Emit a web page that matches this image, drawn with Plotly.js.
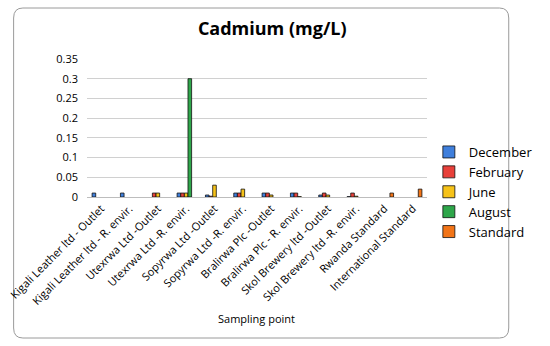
<!DOCTYPE html>
<html>
<head>
<meta charset="utf-8">
<script src="https://cdn.plot.ly/plotly-3.0.1.min.js"></script>
<style>
  body { margin: 0; background: #fff; }
  #chart { width: 550px; height: 346px; }
</style>
</head>
<body>
<div id="chart"></div>
<script>
// sampling points (x categories)
const samplingPoints = [
    'Kigali Leather ltd - Outlet',
    'Kigali Leather ltd - R. envir.',
    'Utexrwa Ltd -Outlet',
    'Utexrwa Ltd -R. envir.',
    'Sopyrwa Ltd -Outlet',
    'Sopyrwa Ltd -R. envir.',
    'Bralirwa Plc -Outlet',
    'Bralirwa Plc - R. envir.',
    'Skol Brewery ltd -Outlet',
    'Skol Brewery ltd -R. envir.',
    'Rwanda Standard',
    'International Standard'
];

// Cd concentrations (mg/L) per sampling campaign, null = nothing drawn
const december = [0.01, 0.01, null, 0.01, 0.005, 0.01, 0.01, 0.01, 0.005, 0.001, null, null];
const february = [null, null, 0.01, 0.01, 0.002, 0.01, 0.01, 0.01, 0.01, 0.01, null, null];
const june     = [null, null, 0.01, 0.01, 0.03, 0.02, 0.005, 0.001, 0.005, 0.002, null, null];
const august   = [null, null, null, 0.3, null, null, null, null, null, null, null, null];
const standard = [null, null, null, null, null, null, null, null, null, null, 0.01, 0.02];

const seriesNames = ['December', 'February', 'June', 'August', 'Standard'];
const seriesColors = ['#3f7fdc', '#e8403a', '#f6c218', '#2ea64a', '#f27417'];
const seriesValues = [december, february, june, august, standard];

const traces = seriesValues.map((vals, i) => ({
    type: 'bar',
    name: seriesNames[i],
    x: samplingPoints,
    y: vals,
    marker: { color: seriesColors[i], line: { color: '#111', width: 0.8 } },
    hoverinfo: 'x+y+name'
}));

// plot area in pixels
const L = 87, R = 453, T = 59, B = 197;
const px = x => (x - L) / (R - L);
const py = y => (B - y) / (B - T);

// rounded chart border, drawn in paper coords
function roundRect(x0, y0, x1, y1, r) {
    return 'M' + px(x0 + r) + ',' + py(y0) +
        ' L' + px(x1 - r) + ',' + py(y0) +
        ' Q' + px(x1) + ',' + py(y0) + ' ' + px(x1) + ',' + py(y0 + r) +
        ' L' + px(x1) + ',' + py(y1 - r) +
        ' Q' + px(x1) + ',' + py(y1) + ' ' + px(x1 - r) + ',' + py(y1) +
        ' L' + px(x0 + r) + ',' + py(y1) +
        ' Q' + px(x0) + ',' + py(y1) + ' ' + px(x0) + ',' + py(y1 - r) +
        ' L' + px(x0) + ',' + py(y0 + r) +
        ' Q' + px(x0) + ',' + py(y0) + ' ' + px(x0 + r) + ',' + py(y0) + ' Z';
}

const layout = {
    width: 550,
    height: 346,
    margin: { l: L, r: 550 - R, t: T, b: 346 - B },
    paper_bgcolor: '#fff',
    plot_bgcolor: '#fff',
    font: { family: 'Open Sans, Liberation Sans, sans-serif', color: '#000', size: 11 },
    title: {
        text: '<b>Cadmium (mg/L)</b>',
        font: { size: 18, color: '#000' },
        x: 0.495, xanchor: 'center',
        y: 0.918, yanchor: 'middle'
    },
    barmode: 'group',
    bargap: 0.36,
    bargroupgap: 0,
    showlegend: true,
    legend: {
        x: px(455), y: py(137), xanchor: 'left', yanchor: 'top',
        font: { size: 13 },
        itemwidth: 30,
        tracegroupgap: 0,
        bgcolor: 'rgba(0,0,0,0)'
    },
    xaxis: {
        type: 'category',
        tickangle: -45,
        tickfont: { size: 11 },
        showline: true,
        linecolor: '#bdbdbd',
        ticks: '',
        showgrid: false
    },
    yaxis: {
        range: [0, 0.35],
        dtick: 0.05,
        tick0: 0,
        tickfont: { size: 11 },
        gridcolor: '#d0d0d0',
        gridwidth: 1,
        zeroline: false,
        showline: false,
        ticks: '',
        ticklabelstandoff: 8
    },
    annotations: [{
        text: 'Sampling point',
        xref: 'paper', yref: 'paper',
        x: px(269), y: py(318),
        xanchor: 'center', yanchor: 'middle',
        showarrow: false,
        font: { size: 11 }
    }],
    shapes: [{
        type: 'path',
        xref: 'paper', yref: 'paper',
        path: roundRect(8, 8, 541, 338, 10),
        line: { color: '#9a9a9a', width: 1 },
        fillcolor: 'rgba(0,0,0,0)',
        layer: 'below'
    }]
};

Plotly.newPlot('chart', traces, layout, { displayModeBar: false, staticPlot: true });
</script>
</body>
</html>
